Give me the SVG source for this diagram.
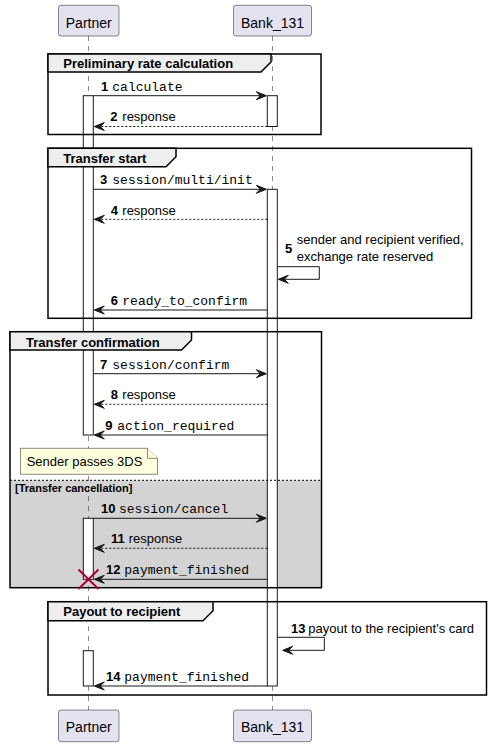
<svg xmlns="http://www.w3.org/2000/svg" width="491" height="747" viewBox="0 0 491 747">
<style>
.part{fill:#E2E2F0;stroke:#181818;stroke-width:0.5}
.pname{font-family:"Liberation Sans",Arial,sans-serif;font-size:14px;fill:#000;text-anchor:middle}
.life{stroke:#181818;stroke-width:0.5;stroke-dasharray:5,5;fill:none}
.gframe{fill:none;stroke:#000;stroke-width:1.5}
.gtab{fill:#EEEEEE;stroke:#000;stroke-width:1.5}
.gtitle{font-family:"Liberation Sans",Arial,sans-serif;font-size:13px;font-weight:bold;fill:#000}
.act{fill:#FFFFFF;stroke:#181818;stroke-width:1}
.msg{stroke:#181818;stroke-width:1;fill:none}
.dash{stroke-dasharray:2,2}
.head{fill:#181818;stroke:#181818;stroke-width:1}
.num{font-family:"Liberation Sans",Arial,sans-serif;font-size:13px;font-weight:bold;fill:#000}
.mono{font-family:"Liberation Mono","Courier New",monospace;font-size:13px;fill:#000}
.sans{font-family:"Liberation Sans",Arial,sans-serif;font-size:13px;fill:#000}
.note{fill:#FEFFDD;stroke:#181818;stroke-width:0.5}
</style>

<g id="group-backgrounds">
  <rect x="10" y="480.3" width="311.5" height="107.4" fill="#D3D3D3"/>
</g>

<g id="lifelines">
  <line class="life" x1="88.5" y1="36" x2="88.5" y2="710"/>
  <line class="life" x1="272.5" y1="36" x2="272.5" y2="710"/>
</g>

<g id="participant-partner-top">
  <rect class="part" x="58.5" y="5.3" width="60.5" height="30.7" rx="2.5"/>
  <text class="pname" x="88.75" y="27.5">Partner</text>
</g>
<g id="participant-bank-top">
  <rect class="part" x="233.5" y="5.3" width="78" height="30.7" rx="2.5"/>
  <text class="pname" x="272.5" y="27.5">Bank_131</text>
</g>
<g id="participant-partner-bottom">
  <rect class="part" x="58.5" y="710" width="60.5" height="31.7" rx="2.5"/>
  <text class="pname" x="88.75" y="732.3">Partner</text>
</g>
<g id="participant-bank-bottom">
  <rect class="part" x="233.5" y="710" width="78" height="31.7" rx="2.5"/>
  <text class="pname" x="272.5" y="732.3">Bank_131</text>
</g>

<g id="activations">
  <rect class="act" x="83.3" y="95.7" width="10" height="339.3"/>
  <rect class="act" x="267.3" y="95.7" width="10" height="30.8"/>
  <rect class="act" x="267.3" y="189.3" width="10" height="496.7"/>
  <rect class="act" x="83.3" y="518.3" width="10" height="61"/>
  <rect class="act" x="83.3" y="650.7" width="10" height="35.3"/>
</g>

<g id="group-preliminary">
  <rect class="gframe" x="48" y="54" width="273" height="80.5"/>
  <polygon class="gtab" points="48,54 271,54 271,62 261,72 48,72"/>
  <text class="gtitle" x="63.3" y="68">Preliminary rate calculation</text>
</g>
<g id="group-transfer-start">
  <rect class="gframe" x="48" y="148.3" width="423.5" height="170"/>
  <polygon class="gtab" points="48,148.3 176,148.3 176,156.7 166,166.7 48,166.7"/>
  <text class="gtitle" x="63.3" y="162.5">Transfer start</text>
</g>
<g id="group-transfer-confirmation">
  <rect class="gframe" x="10" y="331.7" width="311.5" height="256"/>
  <polygon class="gtab" points="10,331.7 191.5,331.7 191.5,340 181.5,350 10,350"/>
  <text class="gtitle" x="26" y="346.5">Transfer confirmation</text>
  <line x1="10" y1="480.3" x2="321.5" y2="480.3" stroke="#000" stroke-width="1" stroke-dasharray="2,2"/>
  <text class="gtitle" x="15" y="491.5" style="font-size:11px">[Transfer cancellation]</text>
</g>
<g id="group-payout">
  <rect class="gframe" x="48" y="601.7" width="438.5" height="93.3"/>
  <polygon class="gtab" points="48,601.7 213,601.7 213,610.7 203,620.7 48,620.7"/>
  <text class="gtitle" x="63.3" y="616">Payout to recipient</text>
</g>

<g id="note-3ds">
  <path class="note" d="M20.5,448.3 L147.5,448.3 L157.5,458.3 L157.5,474.3 L20.5,474.3 Z"/>
  <path class="note" d="M147.5,448.3 L147.5,458.3 L157.5,458.3" fill="none"/>
  <text class="sans" x="26.7" y="466">Sender passes 3DS</text>
</g>

<g id="connectors">
  <!-- 1 -->
  <line class="msg" x1="93.3" y1="95.7" x2="266" y2="95.7"/>
  <polygon class="head" points="256.3,91.7 266.3,95.7 256.3,99.7 260.3,95.7"/>
  <text class="num" x="101" y="90.5">1</text><text class="mono" x="112.3" y="90.5">calculate</text>
  <!-- 2 -->
  <line class="msg dash" x1="267.3" y1="126.5" x2="95" y2="126.5"/>
  <polygon class="head" points="104.3,122.5 94.3,126.5 104.3,130.5 100.3,126.5"/>
  <text class="num" x="110.3" y="121.3">2</text><text class="sans" x="122.3" y="121.3">response</text>
  <!-- 3 -->
  <line class="msg" x1="93.3" y1="189.3" x2="266" y2="189.3"/>
  <polygon class="head" points="256.3,185.3 266.3,189.3 256.3,193.3 260.3,189.3"/>
  <text class="num" x="100" y="184.3">3</text><text class="mono" x="112.3" y="184.3">session/multi/init</text>
  <!-- 4 -->
  <line class="msg dash" x1="267.3" y1="219.3" x2="95" y2="219.3"/>
  <polygon class="head" points="104.3,215.3 94.3,219.3 104.3,223.3 100.3,219.3"/>
  <text class="num" x="110.7" y="214.5">4</text><text class="sans" x="122.3" y="214.5">response</text>
  <!-- 5 -->
  <polyline class="msg" points="277.3,266.7 319.3,266.7 319.3,279.3 279,279.3"/>
  <polygon class="head" points="288.3,275.3 278.3,279.3 288.3,283.3 284.3,279.3"/>
  <text class="num" x="285" y="252.5">5</text>
  <text class="sans" x="296.7" y="244.3">sender and recipient verified,</text>
  <text class="sans" x="296.7" y="260.7">exchange rate reserved</text>
  <!-- 6 -->
  <line class="msg" x1="267.3" y1="310" x2="95" y2="310"/>
  <polygon class="head" points="104.3,306 94.3,310 104.3,314 100.3,310"/>
  <text class="num" x="110.7" y="305">6</text><text class="mono" x="122.3" y="305">ready_to_confirm</text>
  <!-- 7 -->
  <line class="msg" x1="93.3" y1="373.7" x2="266" y2="373.7"/>
  <polygon class="head" points="256.3,369.7 266.3,373.7 256.3,377.7 260.3,373.7"/>
  <text class="num" x="100" y="368.5">7</text><text class="mono" x="112.3" y="368.5">session/confirm</text>
  <!-- 8 -->
  <line class="msg dash" x1="267.3" y1="404.3" x2="95" y2="404.3"/>
  <polygon class="head" points="104.3,400.3 94.3,404.3 104.3,408.3 100.3,404.3"/>
  <text class="num" x="110.7" y="399.3">8</text><text class="sans" x="122.3" y="399.3">response</text>
  <!-- 9 -->
  <line class="msg" x1="267.3" y1="435" x2="95" y2="435"/>
  <polygon class="head" points="104.3,431 94.3,435 104.3,439 100.3,435"/>
  <text class="num" x="105.3" y="430">9</text><text class="mono" x="117.3" y="430">action_required</text>
  <!-- 10 -->
  <line class="msg" x1="93.3" y1="518.3" x2="266" y2="518.3"/>
  <polygon class="head" points="256.3,514.3 266.3,518.3 256.3,522.3 260.3,518.3"/>
  <text class="num" x="101" y="513.3">10</text><text class="mono" x="119" y="513.3">session/cancel</text>
  <!-- 11 -->
  <line class="msg dash" x1="267.3" y1="548.3" x2="95" y2="548.3"/>
  <polygon class="head" points="104.3,544.3 94.3,548.3 104.3,552.3 100.3,548.3"/>
  <text class="num" x="111" y="543.3">11</text><text class="sans" x="128.7" y="543.3">response</text>
  <!-- 12 -->
  <line class="msg" x1="267.3" y1="579.3" x2="95" y2="579.3"/>
  <polygon class="head" points="104.3,575.3 94.3,579.3 104.3,583.3 100.3,579.3"/>
  <text class="num" x="106" y="574.3">12</text><text class="mono" x="124.3" y="574.3">payment_finished</text>
  <!-- 13 -->
  <polyline class="msg" points="277.3,637.3 324.3,637.3 324.3,650.3 284,650.3"/>
  <polygon class="head" points="292.7,646.3 282.7,650.3 292.7,654.3 288.7,650.3"/>
  <text class="num" x="291" y="632.5">13</text><text class="sans" x="308.3" y="632.5">payout to the recipient's card</text>
  <!-- 14 -->
  <line class="msg" x1="267.3" y1="686" x2="95" y2="686"/>
  <polygon class="head" points="104.3,682 94.3,686 104.3,690 100.3,686"/>
  <text class="num" x="106" y="681">14</text><text class="mono" x="124.3" y="681">payment_finished</text>
</g>

<g id="destroy-partner">
  <line x1="78.5" y1="569.5" x2="98.5" y2="589" stroke="#A80036" stroke-width="2"/>
  <line x1="98.5" y1="569.5" x2="78.5" y2="589" stroke="#A80036" stroke-width="2"/>
</g>
</svg>
